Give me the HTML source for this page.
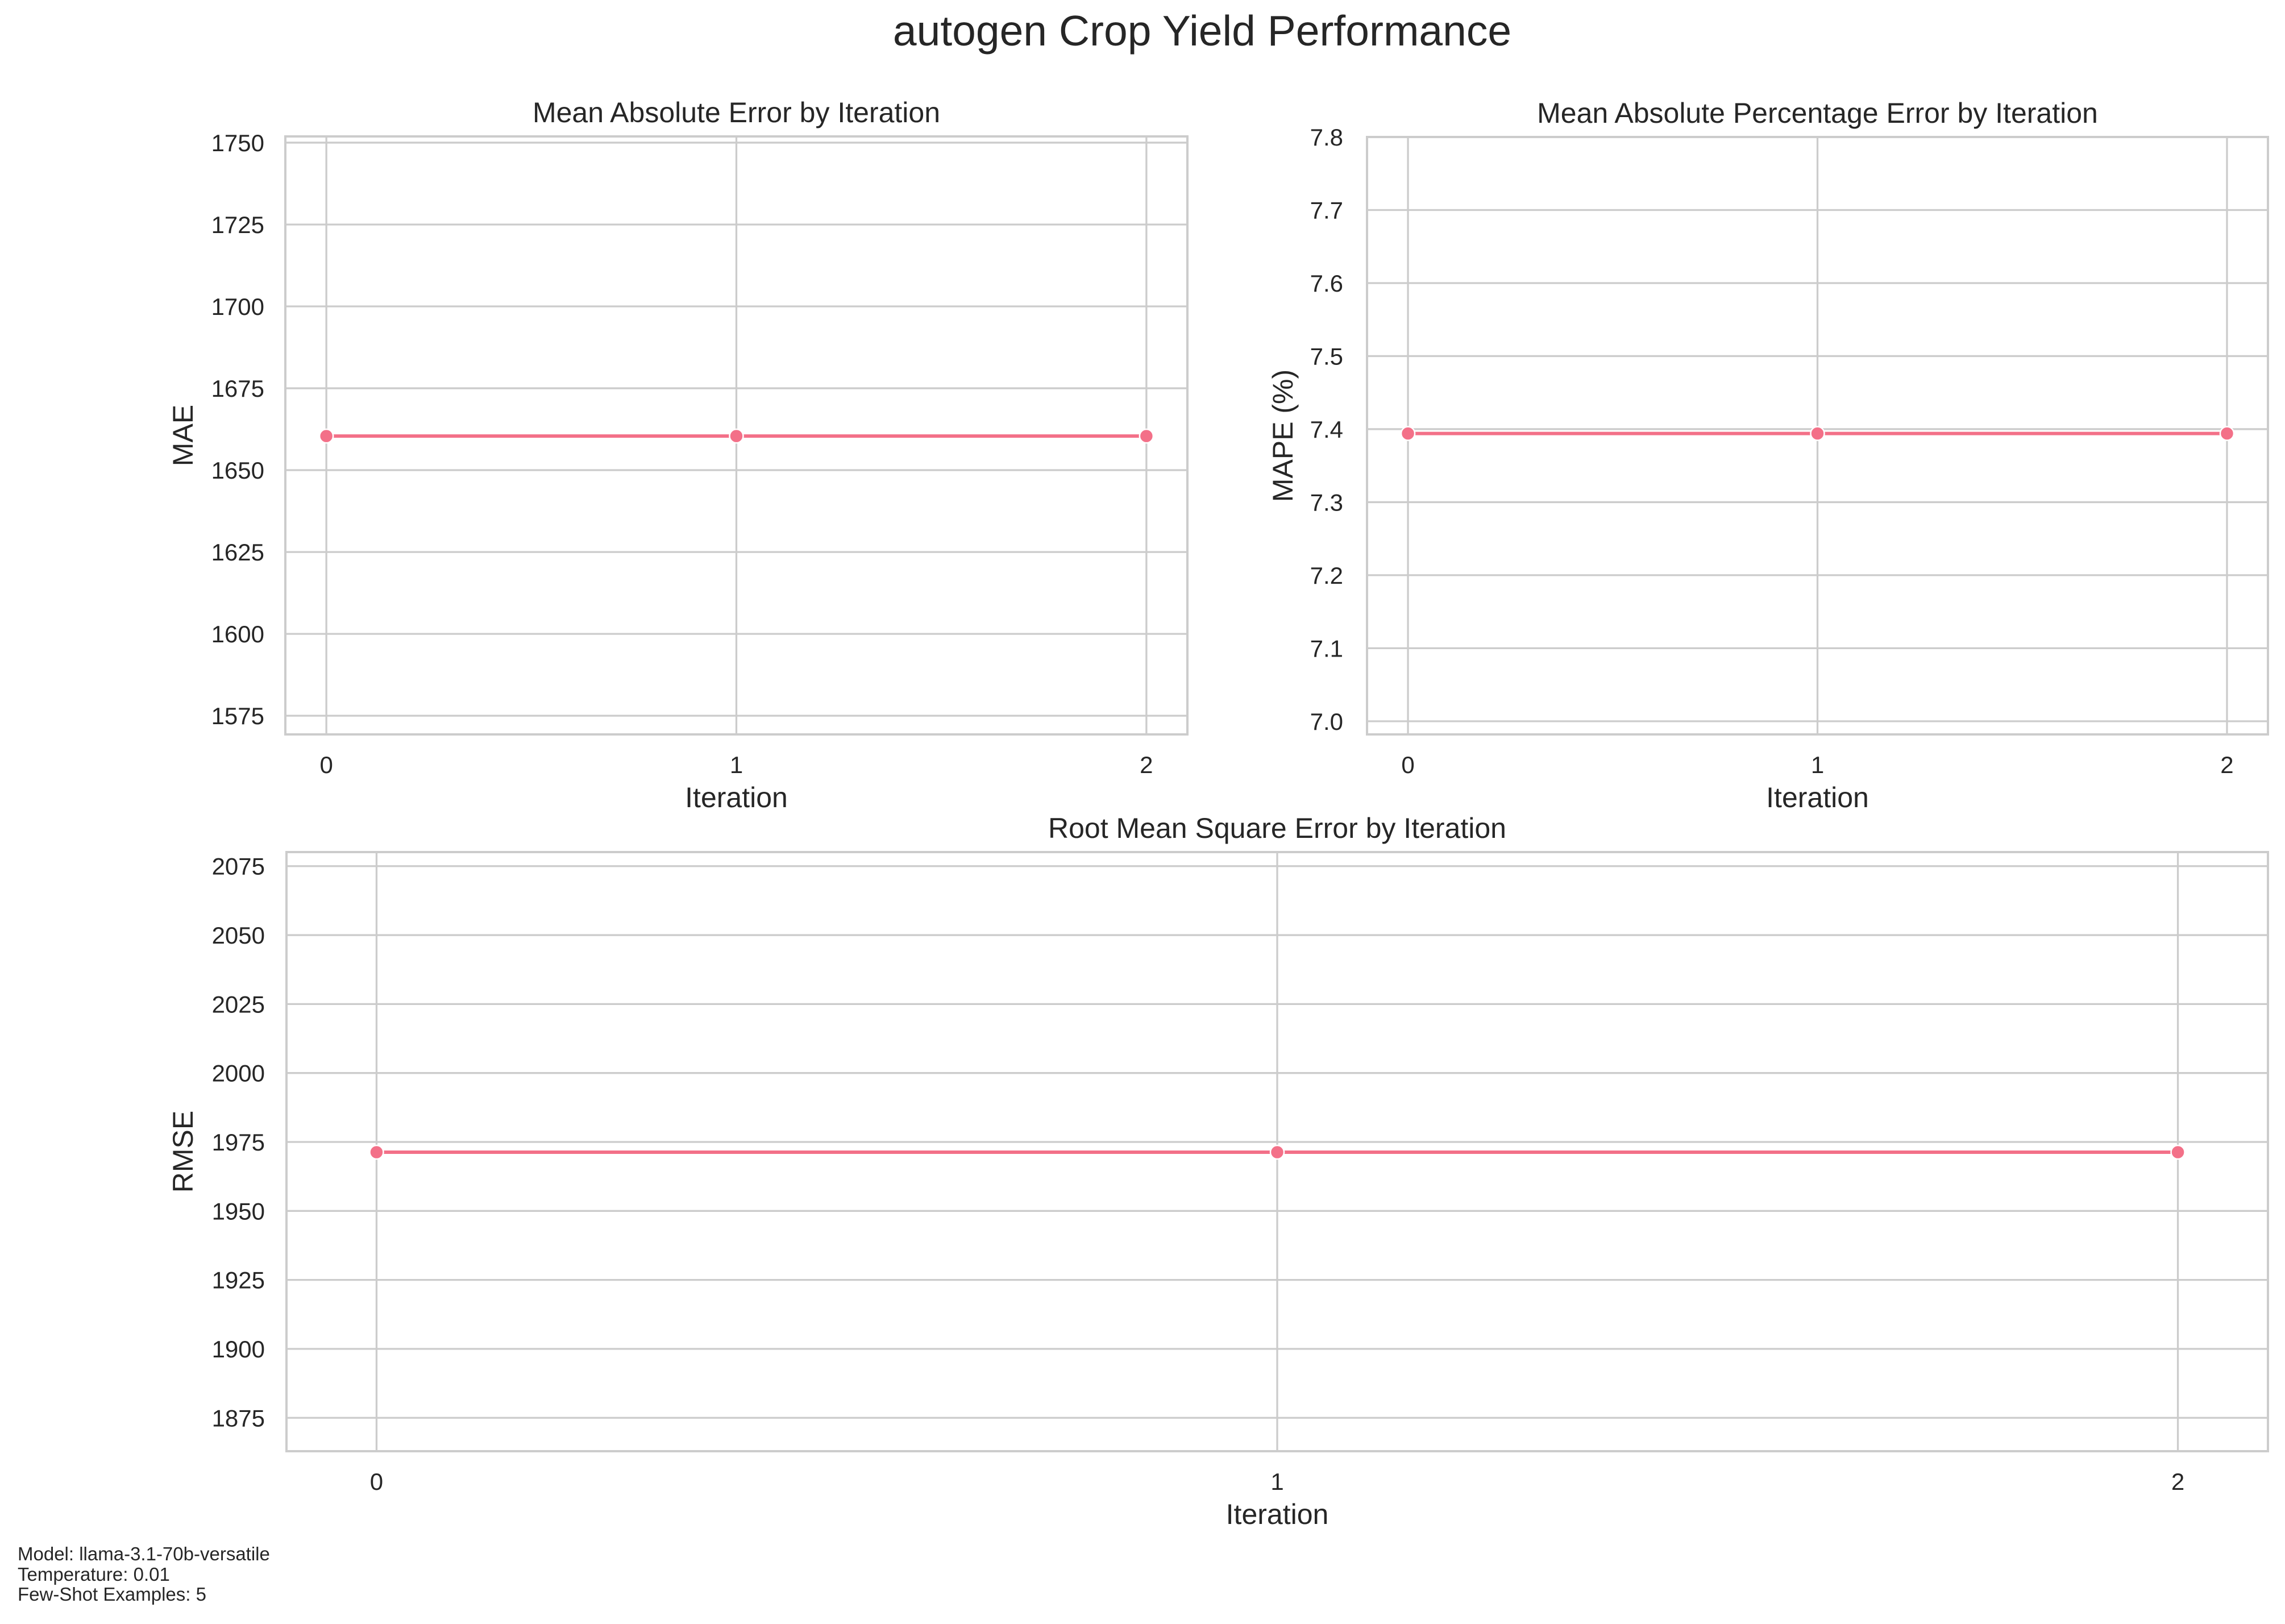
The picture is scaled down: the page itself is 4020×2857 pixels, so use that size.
<!DOCTYPE html>
<html><head><meta charset="utf-8"><style>
html,body{margin:0;padding:0;background:#fff;}
svg{display:block;font-family:"Liberation Sans",Arial,sans-serif;}
</style></head><body>
<svg id="fig" width="4020" height="2857" viewBox="0 0 4020 2857" xmlns="http://www.w3.org/2000/svg">
<rect width="4020" height="2857" fill="#fff"/>
<text x="2115" y="80" font-size="75" text-anchor="middle" fill="#262626">autogen Crop Yield Performance</text>
<text font-size="33" fill="#262626">
<tspan x="31" y="2745">Model: llama-3.1-70b-versatile</tspan>
<tspan x="31" y="2781">Temperature: 0.01</tspan>
<tspan x="31" y="2816">Few-Shot Examples: 5</tspan>
</text>
</svg>
<script>
const iterations = [0, 1, 2];
const maeValues = [1660.4, 1660.4, 1660.4];
const mapeValues = [7.394, 7.394, 7.394];
const rmseValues = [1971.3, 1971.3, 1971.3];
const maeTicks = [1575, 1600, 1625, 1650, 1675, 1700, 1725, 1750];
const mapeTicks = [7.0, 7.1, 7.2, 7.3, 7.4, 7.5, 7.6, 7.7, 7.8];
const rmseTicks = [1875, 1900, 1925, 1950, 1975, 2000, 2025, 2050, 2075];

const NS = "http://www.w3.org/2000/svg";
const svg = document.getElementById('fig');
function mk(tag, attrs, parent){
  const e = document.createElementNS(NS, tag);
  for (const k in attrs) e.setAttribute(k, attrs[k]);
  (parent||svg).appendChild(e);
  return e;
}
function panel(cfg){
  const g = mk('g', {});
  
  
  const xs = v => cfg.L + (v - cfg.xmin) / (cfg.xmax - cfg.xmin) * (cfg.R - cfg.L);
  const ys = v => cfg.B - (v - cfg.ymin) / (cfg.ymax - cfg.ymin) * (cfg.B - cfg.T);
  cfg.yticks.forEach(t => {
    const y = ys(t);
    const ln = mk('line', {x1: cfg.L, x2: cfg.R, y1: y, y2: y, stroke: '#cccccc', 'stroke-width': 3.3}, g);
    
    
    const tx = mk('text', {x: cfg.tickX, y: y + 15, 'font-size': 42, 'text-anchor': 'end', fill: '#262626'}, g);
    
    
    tx.textContent = cfg.fmt(t);
  });
  iterations.forEach(t => {
    const x = xs(t);
    const ln = mk('line', {x1: x, x2: x, y1: cfg.T, y2: cfg.B, stroke: '#cccccc', 'stroke-width': 3.3}, g);
    
    
    const tx = mk('text', {x: x, y: cfg.B + 68, 'font-size': 42, 'text-anchor': 'middle', fill: '#262626'}, g);
    
    
    tx.textContent = String(t);
  });
  const fr = mk('rect', {x: cfg.L, y: cfg.T, width: cfg.R - cfg.L, height: cfg.B - cfg.T, fill: 'none', stroke: '#cccccc', 'stroke-width': 4}, g);
  
  
  const pts = iterations.map((t, i) => xs(t) + ',' + ys(cfg.values[i])).join(' ');
  const pl = mk('polyline', {points: pts, fill: 'none', stroke: '#f37088', 'stroke-width': 6}, g);
  
  
  iterations.forEach((t, i) => {
    const c = mk('circle', {cx: xs(t), cy: ys(cfg.values[i]), r: 12, fill: '#f37088', stroke: '#fff', 'stroke-width': 2.5}, g);
    
    
  });
  const ti = mk('text', {x: (cfg.L + cfg.R) / 2, y: cfg.T - 25, 'font-size': 50, 'text-anchor': 'middle', fill: '#262626'}, g);
  
  
  ti.textContent = cfg.title;
  const xl = mk('text', {x: (cfg.L + cfg.R) / 2, y: cfg.B + 128, 'font-size': 50, 'text-anchor': 'middle', fill: '#262626'}, g);
  
  
  xl.textContent = 'Iteration';
  const yc = (cfg.T + cfg.B) / 2;
  const yl = mk('text', {x: cfg.ylabX, y: yc, 'font-size': 50, 'text-anchor': 'middle', fill: '#262626', transform: 'rotate(-90 ' + cfg.ylabX + ' ' + yc + ')', dy: 17}, g);
  
  
  yl.textContent = cfg.ylabel;
}
panel({name: 'mae-panel', L: 502, R: 2089, T: 240, B: 1292, xmin: -0.1, xmax: 2.1, ymin: 1569.3, ymax: 1751.9,
  yticks: maeTicks, values: maeValues, fmt: v => String(v), tickX: 465, ylabX: 322,
  title: 'Mean Absolute Error by Iteration', ylabel: 'MAE'});
panel({name: 'mape-panel', L: 2405, R: 3990, T: 241, B: 1292, xmin: -0.1, xmax: 2.1, ymin: 6.982, ymax: 7.8,
  yticks: mapeTicks, values: mapeValues, fmt: v => v.toFixed(1), tickX: 2363, ylabX: 2257,
  title: 'Mean Absolute Percentage Error by Iteration', ylabel: 'MAPE (%)'});
panel({name: 'rmse-panel', L: 504, R: 3990, T: 1499, B: 2553, xmin: -0.1, xmax: 2.1, ymin: 1862.9, ymax: 2080.1,
  yticks: rmseTicks, values: rmseValues, fmt: v => String(v), tickX: 466, ylabX: 322,
  title: 'Root Mean Square Error by Iteration', ylabel: 'RMSE'});
</script>
</body></html>
